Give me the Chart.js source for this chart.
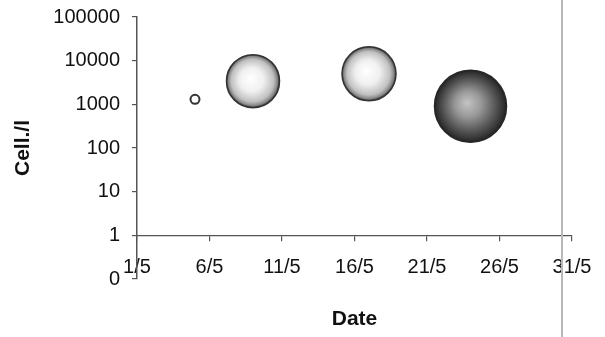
<!DOCTYPE html>
<html><head><meta charset="utf-8">
<script src="https://cdn.jsdelivr.net/npm/chart.js@4.4.1/dist/chart.umd.min.js"></script>
<style>
html,body{margin:0;padding:0;background:#fff;overflow:hidden}
#wrap{position:relative;width:605px;height:337px}
#scanline{position:absolute;left:561px;top:0;width:2px;height:337px;background:#b8b8b8}
</style></head><body>
<div id="wrap"><canvas id="c" width="605" height="337"></canvas><div id="scanline"></div></div>
<script>
// ---- data ----
const dateDays = [5, 9, 17, 24];            // day of May
const cellsPerLitre = [1300, 3400, 5000, 900];
const bubbleRadius = [4.5, 26.5, 27, 36];
const xTickDays = [1, 6, 11, 16, 21, 26, 31];
const xTickLabels = ['1/5', '6/5', '11/5', '16/5', '21/5', '26/5', '31/5'];
const yTickValues = [0.1, 1, 10, 100, 1000, 10000, 100000];
const yTickLabels = ['0', '1', '10', '100', '1000', '10000', '100000'];

// ---- styling ----
const shade = ['hollow', 'light', 'light', 'dark'];
const points = dateDays.map((d, i) => ({x: d, y: cellsPerLitre[i], r: bubbleRadius[i]}));

function bubbleFill(ctx) {
  const chart = ctx.chart;
  const raw = ctx.raw;
  if (!chart.chartArea || !raw || ctx.type !== 'data') return '#ffffff';
  const kind = shade[ctx.dataIndex];
  if (kind === 'hollow') return '#ffffff';
  const x = chart.scales.x.getPixelForValue(raw.x);
  const y = chart.scales.y.getPixelForValue(raw.y);
  const r = raw.r;
  const g = chart.ctx.createRadialGradient(x - r * 0.1, y - r * 0.1, 0, x, y, r);
  if (kind === 'light') {
    g.addColorStop(0, '#ffffff');
    g.addColorStop(0.45, '#f0f0f0');
    g.addColorStop(0.8, '#c0c0c0');
    g.addColorStop(0.93, '#858585');
    g.addColorStop(1, '#333333');
  } else {
    g.addColorStop(0, '#c4c4c4');
    g.addColorStop(0.35, '#9a9a9a');
    g.addColorStop(0.7, '#5a5a5a');
    g.addColorStop(0.92, '#333333');
    g.addColorStop(1, '#222222');
  }
  return g;
}

function noScalePadding(s) {
  s.paddingTop = 0; s.paddingBottom = 0; s.paddingLeft = 0; s.paddingRight = 0;
}

const tickFont = {family: '"Liberation Sans", Arial, sans-serif', size: 20};
const titleFont = {family: '"Liberation Sans", Arial, sans-serif', size: 21, weight: 'bold'};

new Chart(document.getElementById('c'), {
  type: 'bubble',
  data: {
    datasets: [{
      data: points,
      backgroundColor: bubbleFill,
      borderColor: ctx => shade[ctx.dataIndex] === 'dark' ? '#262626' : '#333333',
      borderWidth: ctx => shade[ctx.dataIndex] === 'hollow' ? 2 : 1.5,
      clip: false
    }]
  },
  options: {
    responsive: false,
    animation: false,
    events: [],
    layout: {autoPadding: false, padding: {top: 17, right: 33, bottom: 58, left: 0}},
    plugins: {legend: {display: false}, tooltip: {enabled: false}},
    scales: {
      x: {
        type: 'linear',
        position: {y: 1},
        min: xTickDays[0],
        max: xTickDays[xTickDays.length - 1],
        afterBuildTicks: s => { s.ticks = xTickDays.map(v => ({value: v})); },
        afterFit: noScalePadding,
        ticks: {
          font: tickFont, color: '#111', padding: 15, maxRotation: 0, autoSkip: false,
          callback: v => xTickLabels[xTickDays.indexOf(v)]
        },
        grid: {drawOnChartArea: false, drawTicks: true, tickLength: 5, color: '#555', lineWidth: 1.2},
        border: {display: true, color: '#555', width: 1.2},
        title: {display: true, text: 'Date', font: titleFont, color: '#111', padding: {top: 12, bottom: 0}}
      },
      y: {
        type: 'logarithmic',
        position: 'left',
        min: yTickValues[0],
        max: yTickValues[yTickValues.length - 1],
        afterBuildTicks: s => { s.ticks = yTickValues.map(v => ({value: v})); },
        afterFit: s => { s.width = 137; noScalePadding(s); },
        ticks: {
          font: tickFont, color: '#111', padding: 12, autoSkip: false,
          callback: v => yTickLabels[yTickValues.indexOf(v)]
        },
        grid: {drawOnChartArea: false, drawTicks: true, tickLength: 5, color: '#555', lineWidth: 1.2},
        border: {display: true, color: '#555', width: 1.5},
        title: {display: true, text: 'Cell./l', font: titleFont, color: '#111', padding: {top: 11, bottom: 0}}
      }
    }
  }
});
</script>
</body></html>
